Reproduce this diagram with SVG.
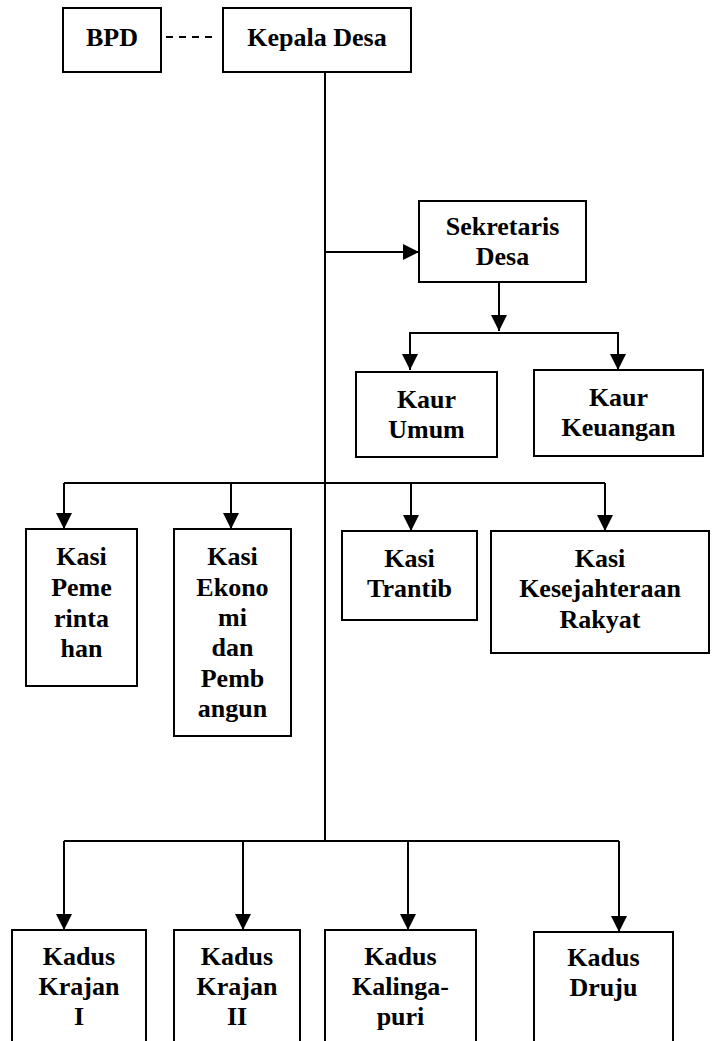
<svg xmlns="http://www.w3.org/2000/svg" width="715" height="1041" viewBox="0 0 715 1041">
<defs>
<marker id="ah" markerWidth="16" markerHeight="16" refX="16" refY="8" orient="auto" markerUnits="userSpaceOnUse">
<path d="M0,0 L16,8 L0,16 Z" fill="#000"/>
</marker>
<style>
.box{fill:#fff;stroke:#000;stroke-width:2}
.t{font-family:"Liberation Serif","Times New Roman",serif;font-weight:bold;font-size:26px;text-anchor:middle;fill:#000}
.c{fill:none;stroke:#000;stroke-width:2}
.a{fill:none;stroke:#000;stroke-width:2;marker-end:url(#ah)}
</style>
</defs>
<rect width="715" height="1041" fill="#fff"/>
<g id="connectors">
<line class="c" x1="166" y1="37" x2="218" y2="37" stroke-dasharray="7 6"/>
<line class="c" x1="325" y1="72" x2="325" y2="841"/>
<line class="a" x1="325" y1="252" x2="419" y2="252"/>
<line class="a" x1="499" y1="282" x2="499" y2="331"/>
<polyline class="c" points="410,352 410,333 618,333 618,352"/>
<line class="a" x1="410" y1="333" x2="410" y2="370"/>
<line class="a" x1="618" y1="333" x2="618" y2="370"/>
<line class="c" x1="64" y1="483" x2="605" y2="483"/>
<line class="a" x1="64" y1="483" x2="64" y2="529"/>
<line class="a" x1="231" y1="483" x2="231" y2="529"/>
<line class="a" x1="411" y1="483" x2="411" y2="531"/>
<line class="a" x1="605" y1="483" x2="605" y2="531"/>
<line class="c" x1="64" y1="841" x2="619" y2="841"/>
<line class="a" x1="64" y1="841" x2="64" y2="930"/>
<line class="a" x1="243" y1="841" x2="243" y2="930"/>
<line class="a" x1="408" y1="841" x2="408" y2="930"/>
<line class="a" x1="619" y1="841" x2="619" y2="932"/>
</g>
<g id="bpd"><rect class="box" x="63" y="8" width="98" height="64"/><text class="t" x="112" y="46">BPD</text></g>
<g id="kepala-desa"><rect class="box" x="223" y="8" width="188" height="64"/><text class="t" x="317" y="46">Kepala Desa</text></g>
<g id="sekretaris-desa"><rect class="box" x="419" y="201" width="167" height="81"/><text class="t" x="502.5" y="235">Sekretaris</text><text class="t" x="502.5" y="265">Desa</text></g>
<g id="kaur-umum"><rect class="box" x="356" y="372" width="141" height="85"/><text class="t" x="426.5" y="408">Kaur</text><text class="t" x="426.5" y="438">Umum</text></g>
<g id="kaur-keuangan"><rect class="box" x="534" y="370" width="169" height="86"/><text class="t" x="618.5" y="406">Kaur</text><text class="t" x="618.5" y="436">Keuangan</text></g>
<g id="kasi-pemerintahan"><rect class="box" x="26" y="529" width="111" height="157"/><text class="t" x="81.5" y="565">Kasi</text><text class="t" x="81.5" y="596">Peme</text><text class="t" x="81.5" y="627">rinta</text><text class="t" x="81.5" y="657">han</text></g>
<g id="kasi-ekonomi"><rect class="box" x="174" y="529" width="117" height="207"/><text class="t" x="232.5" y="565">Kasi</text><text class="t" x="232.5" y="596">Ekono</text><text class="t" x="232.5" y="626">mi</text><text class="t" x="232.5" y="656">dan</text><text class="t" x="232.5" y="687">Pemb</text><text class="t" x="232.5" y="717">angun</text></g>
<g id="kasi-trantib"><rect class="box" x="342" y="531" width="135" height="89"/><text class="t" x="409.5" y="567">Kasi</text><text class="t" x="409.5" y="597">Trantib</text></g>
<g id="kasi-kesra"><rect class="box" x="491" y="531" width="218" height="122"/><text class="t" x="600" y="567">Kasi</text><text class="t" x="600" y="597">Kesejahteraan</text><text class="t" x="600" y="628">Rakyat</text></g>
<g id="kadus-krajan-1"><rect class="box" x="12" y="930" width="134" height="130"/><text class="t" x="79" y="965">Kadus</text><text class="t" x="79" y="995">Krajan</text><text class="t" x="79" y="1025">I</text></g>
<g id="kadus-krajan-2"><rect class="box" x="174" y="930" width="126" height="130"/><text class="t" x="237" y="965">Kadus</text><text class="t" x="237" y="995">Krajan</text><text class="t" x="237" y="1025">II</text></g>
<g id="kadus-kalingapuri"><rect class="box" x="325" y="930" width="151" height="130"/><text class="t" x="400.5" y="965">Kadus</text><text class="t" x="400.5" y="995">Kalinga-</text><text class="t" x="400.5" y="1025">puri</text></g>
<g id="kadus-druju"><rect class="box" x="534" y="932" width="139" height="130"/><text class="t" x="603.5" y="966">Kadus</text><text class="t" x="603.5" y="996">Druju</text></g>
</svg>
